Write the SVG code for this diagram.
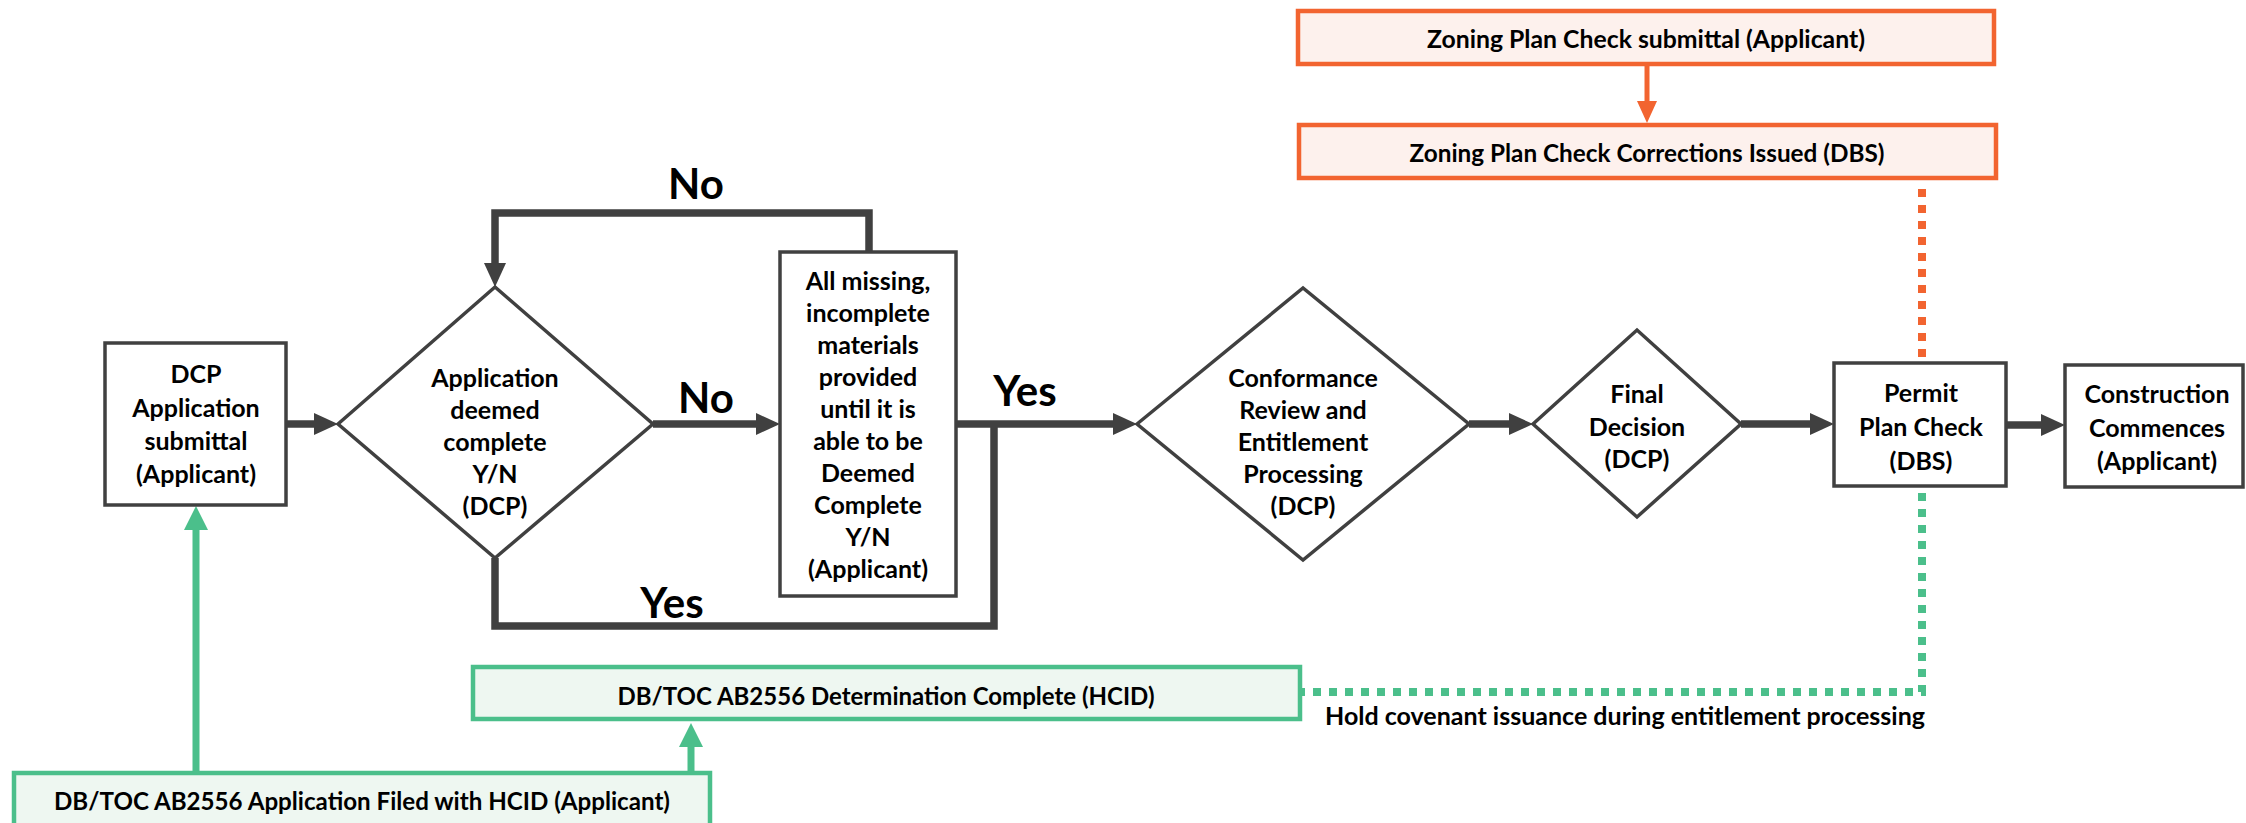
<svg xmlns="http://www.w3.org/2000/svg" width="2246" height="823" viewBox="0 0 2246 823">
<style>
.t{font-family:Lato,"Liberation Sans",sans-serif;font-weight:bold;fill:#000;text-anchor:middle;dominant-baseline:central}
.n{font-size:25px}
.big{font-size:42px}
.lbl{font-size:25px}
.box{fill:#fff;stroke:#404040;stroke-width:3.5}
.gbox{fill:#EEF7F1;stroke:#4BBF8B;stroke-width:4.5}
.obox{fill:#FDF1ED;stroke:#F26430;stroke-width:4.5}
.c{fill:none;stroke:#404040;stroke-width:7.5}
.cg{fill:none;stroke:#4BBF8B;stroke-width:7}
.co{fill:none;stroke:#F26430;stroke-width:5}
.dg{fill:none;stroke:#4BBF8B;stroke-width:8;stroke-dasharray:8 8}
.do{fill:none;stroke:#F26430;stroke-width:8;stroke-dasharray:8 8}
</style>
<defs>
<marker id="ad" markerUnits="userSpaceOnUse" markerWidth="24" markerHeight="22" refX="2" refY="11" orient="auto"><path d="M0,0 L24,11 L0,22 z" fill="#404040"/></marker>
<marker id="ag" markerUnits="userSpaceOnUse" markerWidth="24" markerHeight="24" refX="2" refY="12" orient="auto"><path d="M0,0 L24,12 L0,24 z" fill="#4BBF8B"/></marker>
<marker id="ao" markerUnits="userSpaceOnUse" markerWidth="22" markerHeight="20" refX="2" refY="10" orient="auto"><path d="M0,0 L22,10 L0,20 z" fill="#F26430"/></marker>
</defs>
<rect width="2246" height="823" fill="#fff"/>

<g id="connectors">
<path class="c" d="M286,424 H316" marker-end="url(#ad)"/>
<path class="c" d="M653,424 H758" marker-end="url(#ad)"/>
<path class="c" d="M956,424 H1115" marker-end="url(#ad)"/>
<path class="c" d="M495,558 V626 H994 V424"/>
<path class="c" d="M869,252 V213 H495 V265" marker-end="url(#ad)"/>
<path class="c" d="M1469,424 H1511" marker-end="url(#ad)"/>
<path class="c" d="M1741,424 H1812" marker-end="url(#ad)"/>
<path class="c" d="M2006,425 H2043" marker-end="url(#ad)"/>
<path class="co" d="M1647,64 V103" marker-end="url(#ao)"/>
<path class="do" d="M1922,189 V357"/>
<path class="dg" d="M1922,493 V692 H1302"/>
<path class="cg" d="M196,772 V528" marker-end="url(#ag)"/>
<path class="cg" d="M691,772 V745" marker-end="url(#ag)"/>
<text class="t big" x="696" y="183">No</text>
<text class="t big" x="706" y="397">No</text>
<text class="t big" x="1025" y="390">Yes</text>
<text class="t big" x="672" y="602">Yes</text>
<text class="t" x="1625" y="715" font-size="24" textLength="600" lengthAdjust="spacingAndGlyphs">Hold covenant issuance during entitlement processing</text>
</g>

<g id="dcp-submittal">
<rect class="box" x="105" y="343" width="181" height="162"/>
<text class="t n" x="196" y="373">DCP</text>
<text class="t n" x="196" y="407">Application</text>
<text class="t n" x="196" y="440">submittal</text>
<text class="t n" x="196" y="473">(Applicant)</text>
</g>

<g id="deemed-complete">
<polygon class="box" points="338,424 495,287 653,424 495,558"/>
<text class="t n" x="495" y="377">Application</text>
<text class="t n" x="495" y="409">deemed</text>
<text class="t n" x="495" y="441">complete</text>
<text class="t n" x="495" y="473">Y/N</text>
<text class="t n" x="495" y="505">(DCP)</text>
</g>

<g id="missing-materials">
<rect class="box" x="780" y="252" width="176" height="344"/>
<text class="t n" x="868" y="280">All missing,</text>
<text class="t n" x="868" y="312">incomplete</text>
<text class="t n" x="868" y="344">materials</text>
<text class="t n" x="868" y="376">provided</text>
<text class="t n" x="868" y="408">until it is</text>
<text class="t n" x="868" y="440">able to be</text>
<text class="t n" x="868" y="472">Deemed</text>
<text class="t n" x="868" y="504">Complete</text>
<text class="t n" x="868" y="536">Y/N</text>
<text class="t n" x="868" y="568">(Applicant)</text>
</g>

<g id="conformance-review">
<polygon class="box" points="1137,424 1303,288 1469,424 1303,560"/>
<text class="t n" x="1303" y="377">Conformance</text>
<text class="t n" x="1303" y="409">Review and</text>
<text class="t n" x="1303" y="441">Entitlement</text>
<text class="t n" x="1303" y="473">Processing</text>
<text class="t n" x="1303" y="505">(DCP)</text>
</g>

<g id="final-decision">
<polygon class="box" points="1533,424 1637,330 1741,424 1637,517"/>
<text class="t n" x="1637" y="393">Final</text>
<text class="t n" x="1637" y="426">Decision</text>
<text class="t n" x="1637" y="458">(DCP)</text>
</g>

<g id="permit-plan-check">
<rect class="box" x="1834" y="363" width="172" height="123"/>
<text class="t n" x="1921" y="392">Permit</text>
<text class="t n" x="1921" y="426">Plan Check</text>
<text class="t n" x="1921" y="460">(DBS)</text>
</g>

<g id="construction">
<rect class="box" x="2065" y="365" width="178" height="122"/>
<text class="t n" x="2157" y="393">Construction</text>
<text class="t n" x="2157" y="427">Commences</text>
<text class="t n" x="2157" y="460">(Applicant)</text>
</g>

<g id="zoning-submittal">
<rect class="obox" x="1298" y="11" width="696" height="53"/>
<text class="t lbl" x="1646" y="38" textLength="438" lengthAdjust="spacingAndGlyphs">Zoning Plan Check submittal (Applicant)</text>
</g>

<g id="zoning-corrections">
<rect class="obox" x="1299" y="125" width="697" height="53"/>
<text class="t lbl" x="1647" y="152" textLength="475" lengthAdjust="spacingAndGlyphs">Zoning Plan Check Corrections Issued (DBS)</text>
</g>

<g id="determination-complete">
<rect class="gbox" x="473" y="667" width="827" height="52"/>
<text class="t lbl" x="886" y="695" textLength="537" lengthAdjust="spacingAndGlyphs">DB/TOC AB2556 Determination Complete (HCID)</text>
</g>

<g id="application-filed">
<rect class="gbox" x="14" y="773" width="696" height="70"/>
<text class="t lbl" x="362" y="800" textLength="616" lengthAdjust="spacingAndGlyphs">DB/TOC AB2556 Application Filed with HCID (Applicant)</text>
</g>
</svg>
